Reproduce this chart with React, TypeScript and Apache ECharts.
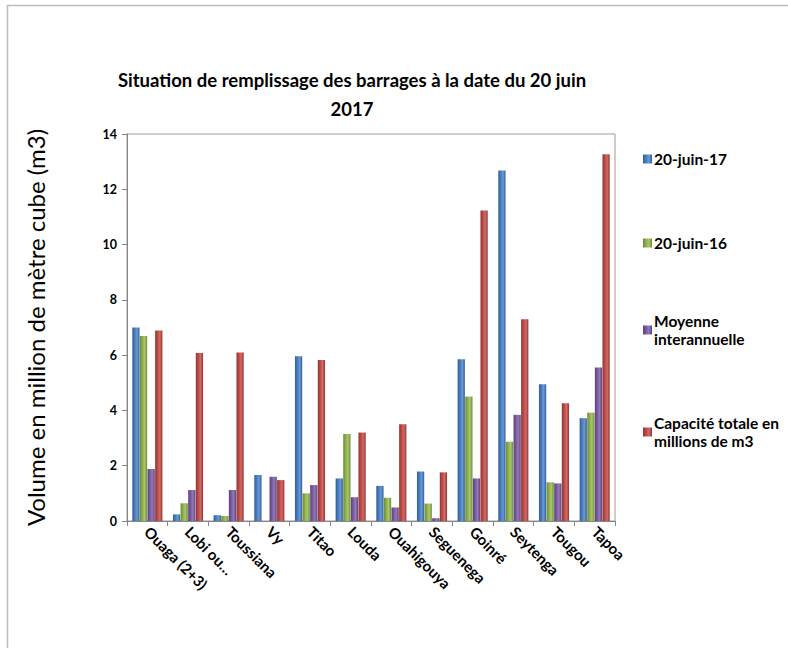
import React, { useEffect, useRef } from "react";
import * as echarts from "echarts";

const categories = [
  "Ouaga (2+3)", "Lobi ou…", "Toussiana", "Vy", "Titao", "Louda",
  "Ouahigouya", "Seguenega", "Goinré", "Seytenga", "Tougou", "Tapoa",
];
const juin17 = [7.0, 0.24, 0.21, 1.66, 5.96, 1.54, 1.27, 1.79, 5.85, 12.68, 4.95, 3.72];
const juin16 = [6.69, 0.64, 0.18, 0, 1.0, 3.15, 0.84, 0.63, 4.5, 2.87, 1.4, 3.92];
const moyenne = [1.88, 1.12, 1.12, 1.6, 1.3, 0.86, 0.49, 0.1, 1.54, 3.84, 1.36, 5.55];
const capacite = [6.89, 6.08, 6.1, 1.48, 5.82, 3.2, 3.5, 1.76, 11.23, 7.3, 4.26, 13.27];
const yTicks = { min: 0, max: 14, interval: 2 };
const seriesNames = [
  "20-juin-17",
  "20-juin-16",
  "Moyenne\ninterannuelle",
  "Capacité totale en\nmillions de m3",
];

const FONT = "Lato";

function grad(dark: string, mid: string, light: string) {
  return new echarts.graphic.LinearGradient(0, 0, 1, 0, [
    { offset: 0, color: dark },
    { offset: 0.35, color: mid },
    { offset: 0.65, color: light },
    { offset: 1, color: dark },
  ]);
}

export default function App() {
  const ref = useRef<HTMLDivElement>(null);
  useEffect(() => {
    document.body.style.margin = "0";
    if (!ref.current) return;
    const chart = echarts.init(ref.current, undefined, { renderer: "svg" });
    const colors = [
      { solid: "#4F81BD", g: grad("#2f5f99", "#4a7cbc", "#6a9ad6") },
      { solid: "#9BBB59", g: grad("#6c8a35", "#8fb04e", "#a9c86c") },
      { solid: "#8064A2", g: grad("#5a4180", "#7a5c9e", "#9479b8") },
      { solid: "#C0504D", g: grad("#923532", "#bb4b48", "#d26a66") },
    ];
    const datas = [juin17, juin16, moyenne, capacite];
    const legendTops = [145, 229, 307, 409];
    chart.setOption({
      animation: false,
      backgroundColor: "#ffffff",
      textStyle: { fontFamily: FONT },
      title: {
        text: "Situation de remplissage des barrages à la date du 20 juin\n2017",
        left: 347,
        top: 60,
        textAlign: "center",
        textStyle: {
          fontFamily: FONT,
          fontSize: 18.5,
          fontWeight: "bold",
          color: "#000",
          lineHeight: 29,
        },
      },
      legend: seriesNames.map((n, i) => ({
        data: [n],
        orient: "vertical",
        left: 638,
        top: legendTops[i],
        itemWidth: 9,
        itemHeight: 9,
        icon: "rect",
        itemGap: 0,
        selectedMode: false,
        textStyle: {
          fontFamily: FONT,
          fontSize: 15.5,
          fontWeight: "bold",
          color: "#000",
          lineHeight: 18,
          padding: [0, 0, 0, -3],
        },
      })),
      grid: {
        left: 127,
        right: 173,
        top: 134,
        bottom: 127,
        show: true,
        borderColor: "#a99494",
        borderWidth: 1,
        backgroundColor: "transparent",
      },
      xAxis: {
        type: "category",
        data: categories,
        axisLine: { lineStyle: { color: "#868686" } },
        axisTick: { show: true, length: 5, lineStyle: { color: "#868686" } },
        axisLabel: {
          rotate: -45,
          interval: 0,
          margin: 8,
          fontFamily: FONT,
          fontSize: 15,
          fontWeight: "bold",
          color: "#000",
        },
      },
      yAxis: {
        type: "value",
        min: yTicks.min,
        max: yTicks.max,
        interval: yTicks.interval,
        name: "Volume en million de mètre cube (m3)",
        nameLocation: "middle",
        nameRotate: 90,
        nameGap: 80,
        nameTextStyle: { fontFamily: FONT, fontSize: 24, color: "#000" },
        splitLine: { show: false },
        axisLine: { show: true, lineStyle: { color: "#868686" } },
        axisTick: { show: true, length: 5, lineStyle: { color: "#868686" } },
        axisLabel: {
          margin: 10,
          fontFamily: FONT,
          fontSize: 12.5,
          fontWeight: "bold",
          color: "#000",
        },
      },
      series: seriesNames.map((n, i) => ({
        name: n,
        type: "bar",
        data: datas[i],
        barGap: "5%",
        barCategoryGap: "26%",
        color: colors[i].solid,
        itemStyle: { color: colors[i].g },
      })),
      graphic: [
        {
          type: "rect",
          shape: { x: 7.5, y: 5.5, width: 900, height: 800 },
          style: { fill: "none", stroke: "#bdbdbd", lineWidth: 1.5 },
          silent: true,
          z: 100,
        },
      ],
    });
    return () => chart.dispose();
  }, []);
  return <div ref={ref} style={{ width: 788, height: 648 }} />;
}
